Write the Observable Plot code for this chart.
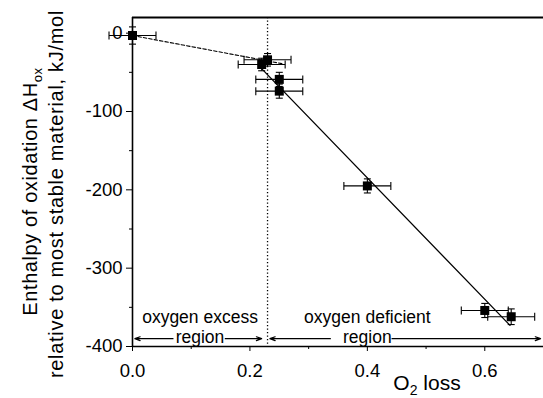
<!DOCTYPE html>
<html><head><meta charset="utf-8">
<script src="https://cdn.jsdelivr.net/npm/d3@7"></script>
<script src="https://cdn.jsdelivr.net/npm/@observablehq/plot@0.6"></script>
<style>body{margin:0;background:#fff}</style>
</head><body><div id="chart"></div>
<script>
// Data
const o2Loss      = [0.0, 0.22, 0.23, 0.25, 0.25, 0.40, 0.60, 0.645];
const enthalpy    = [-3, -40, -34, -59, -74, -195, -354, -362];
const o2Err       = [0.04, 0.04, 0.04, 0.04, 0.04, 0.04, 0.04, 0.04];
const enthalpyErr = [11, 8, 8, 9, 9, 9, 9, 10];
const excessFitX = [0.0, 0.255];
const excessFitY = [-3, -39];
const deficientFitX = [0.217, 0.643];
const deficientFitY = [-43, -373];
const boundaryX = 0.23;
const xTicks = [0, 0.2, 0.4, 0.6];
const xMinorTicks = [0.1, 0.3, 0.5];
const yTicks = [0, -100, -200, -300, -400];
const yMinorTicks = [-50, -150, -250, -350];
const regionLabels = ["oxygen excess", "oxygen deficient"];
const regionCenters = [0.115, 0.40];
const regionArrowFrom = [0.069, 0.158, 0.337, 0.442];
const regionArrowTo   = [0.004, 0.220, 0.234, 0.695];

const points = o2Loss.map((x, i) => ({x, y: enthalpy[i], ex: o2Err[i], ey: enthalpyErr[i]}));
const excessFit = excessFitX.map((x, i) => ({x, y: excessFitY[i]}));
const deficientFit = deficientFitX.map((x, i) => ({x, y: deficientFitY[i]}));
const labels = regionLabels.map((t, i) => ({t, x: regionCenters[i]}));
const arrows = regionArrowFrom.map((x1, i) => ({x1, x2: regionArrowTo[i]}));

const vCap = {draw(ctx, size) { const h = Math.sqrt(size / Math.PI); ctx.moveTo(0, -h); ctx.lineTo(0, h); }};
const hCap = {draw(ctx, size) { const h = Math.sqrt(size / Math.PI); ctx.moveTo(-h, 0); ctx.lineTo(h, 0); }};
const sq = {draw(ctx, size) { const h = Math.sqrt(size / Math.PI); ctx.rect(-h, -h, 2 * h, 2 * h); }};

const none = () => "";

const chart = Plot.plot({
  width: 543, height: 398,
  marginLeft: 132, marginRight: 0, marginTop: 17, marginBottom: 52,
  style: {fontFamily: "'Liberation Sans', Arial, Helvetica, sans-serif", fontSize: "17px", color: "black", background: "white"},
  x: {domain: [0, 0.7]},
  y: {domain: [-400, 20]},
  marks: [
    Plot.axisX(xTicks, {tickSize: 5, tickFormat: none, label: null}),
    Plot.axisX(xMinorTicks, {tickSize: 3, tickFormat: none, label: null}),
    Plot.axisY(yTicks, {tickSize: 6, tickFormat: none, label: null}),
    Plot.axisY(yMinorTicks, {tickSize: 3, tickFormat: none, label: null}),
    Plot.text(xTicks, {x: d => d, y: -400, text: d3.format(".1f"), lineAnchor: "top", dy: 17, fontSize: 18.5, fill: "black"}),
    Plot.text(yTicks, {x: 0, y: d => d, text: d => String(d), textAnchor: "end", dx: -10, fontSize: 18.5, fill: "black"}),
    Plot.ruleX([0], {strokeWidth: 1.6}),
    Plot.ruleY([20], {strokeWidth: 2}),
    Plot.ruleY([-400], {strokeWidth: 1.6}),
    Plot.ruleX([boundaryX], {y1: 20, y2: -400, strokeWidth: 1.3, strokeDasharray: "1.3,2.2"}),
    Plot.line(excessFit, {x: "x", y: "y", strokeWidth: 1.1, strokeDasharray: "3.5,2"}),
    Plot.line(deficientFit, {x: "x", y: "y", strokeWidth: 1.3}),
    Plot.link(points, {x1: d => d.x - d.ex, x2: d => d.x + d.ex, y1: "y", y2: "y", strokeWidth: 1.1}),
    Plot.link(points, {x1: "x", x2: "x", y1: d => d.y - d.ey, y2: d => d.y + d.ey, strokeWidth: 1.1}),
    Plot.dot(points, {x: d => d.x - d.ex, y: "y", symbol: vCap, r: 4, stroke: "black", strokeWidth: 1.1}),
    Plot.dot(points, {x: d => d.x + d.ex, y: "y", symbol: vCap, r: 4, stroke: "black", strokeWidth: 1.1}),
    Plot.dot(points, {x: "x", y: d => d.y - d.ey, symbol: hCap, r: 3.5, stroke: "black", strokeWidth: 1.1}),
    Plot.dot(points, {x: "x", y: d => d.y + d.ey, symbol: hCap, r: 3.5, stroke: "black", strokeWidth: 1.1}),
    Plot.dot(points, {x: "x", y: "y", symbol: sq, r: 4.5, fill: "black", stroke: null}),
    Plot.text(labels, {x: "x", y: -370, text: "t", lineAnchor: "bottom", fontSize: 17.5, fill: "black"}),
    Plot.text(labels, {x: "x", y: -396, text: () => "region", lineAnchor: "bottom", fontSize: 17.5, fill: "black"}),
    Plot.arrow(arrows, {x1: "x1", x2: "x2", y1: -390, y2: -390, strokeWidth: 1.2, headLength: 7, headAngle: 40})
  ]
});

const svg = d3.select(chart);
const t1 = svg.append("text")
  .attr("transform", "translate(37,191.5) rotate(-90)")
  .attr("text-anchor", "middle").attr("font-size", 20).attr("letter-spacing", "0.6px").attr("fill", "black");
t1.append("tspan").text("Enthalpy of oxidation \u0394H");
t1.append("tspan").attr("font-size", 13).attr("dy", 5).text("ox");
svg.append("text")
  .attr("transform", "translate(63,194) rotate(-90)")
  .attr("text-anchor", "middle").attr("font-size", 20).attr("letter-spacing", "0.7px").attr("fill", "black")
  .text("relative to most stable material, kJ/mol");
const t3 = svg.append("text")
  .attr("x", 427).attr("y", 390)
  .attr("text-anchor", "middle").attr("font-size", 21).attr("fill", "black");
t3.append("tspan").text("O");
t3.append("tspan").attr("font-size", 14).attr("dy", 5).text("2");
t3.append("tspan").attr("dy", -5).text(" loss");

document.getElementById("chart").appendChild(chart);
</script>
</body></html>
